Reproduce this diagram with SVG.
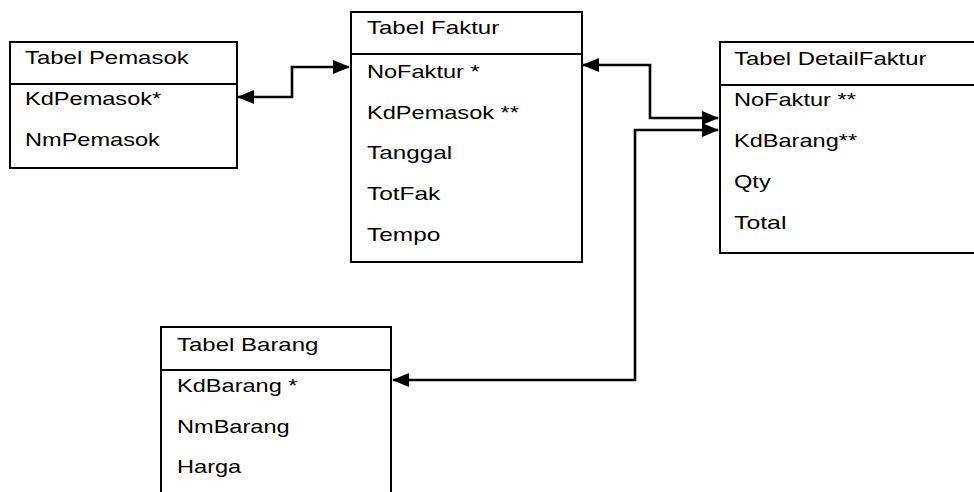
<svg xmlns="http://www.w3.org/2000/svg" width="974" height="492" viewBox="0 0 974 492">
<defs>
<marker id="arr" markerUnits="userSpaceOnUse" markerWidth="17" markerHeight="14" viewBox="0 0 17 14" refX="16" refY="7" orient="auto-start-reverse">
<path d="M0,0 L17,7 L0,14 z" fill="#000"/>
</marker>
<style>
.box{fill:#fff;stroke:#000;stroke-width:2}
.div{stroke:#000;stroke-width:2}
text{font-family:"Liberation Sans",Arial,sans-serif;font-size:19px;fill:#000}
.con{fill:none;stroke:#000;stroke-width:2.6;marker-start:url(#arr);marker-end:url(#arr)}
</style>
</defs>
<rect width="974" height="492" fill="#fff"/>
<g id="pemasok">
<rect class="box" x="10" y="42" width="227" height="126"/>
<line class="div" x1="10" y1="84" x2="237" y2="84"/>
<text x="25" y="64" textLength="163.7" lengthAdjust="spacingAndGlyphs">Tabel Pemasok</text>
<text x="25" y="105" textLength="136.2" lengthAdjust="spacingAndGlyphs">KdPemasok*</text>
<text x="25" y="146" textLength="134.8" lengthAdjust="spacingAndGlyphs">NmPemasok</text>
</g>
<g id="faktur">
<rect class="box" x="351" y="12" width="231" height="250"/>
<line class="div" x1="351" y1="54" x2="582" y2="54"/>
<text x="367" y="34" textLength="132.2" lengthAdjust="spacingAndGlyphs">Tabel Faktur</text>
<text x="367" y="78" textLength="112.6" lengthAdjust="spacingAndGlyphs">NoFaktur *</text>
<text x="367" y="119" textLength="151.9" lengthAdjust="spacingAndGlyphs">KdPemasok **</text>
<text x="367" y="159" textLength="85.1" lengthAdjust="spacingAndGlyphs">Tanggal</text>
<text x="367" y="200" textLength="73.3" lengthAdjust="spacingAndGlyphs">TotFak</text>
<text x="367" y="241" textLength="73.3" lengthAdjust="spacingAndGlyphs">Tempo</text>
</g>
<g id="detailfaktur">
<rect class="box" x="720" y="42" width="270" height="211"/>
<line class="div" x1="720" y1="85" x2="990" y2="85"/>
<text x="734" y="65" textLength="192.5" lengthAdjust="spacingAndGlyphs">Tabel DetailFaktur</text>
<text x="734" y="106" textLength="121.8" lengthAdjust="spacingAndGlyphs">NoFaktur **</text>
<text x="734" y="147" textLength="123.1" lengthAdjust="spacingAndGlyphs">KdBarang**</text>
<text x="734" y="188" textLength="36.7" lengthAdjust="spacingAndGlyphs">Qty</text>
<text x="734" y="229" textLength="52.4" lengthAdjust="spacingAndGlyphs">Total</text>
</g>
<g id="barang">
<rect class="box" x="161" y="327" width="230" height="180"/>
<line class="div" x1="161" y1="370" x2="391" y2="370"/>
<text x="177" y="351" textLength="141.4" lengthAdjust="spacingAndGlyphs">Tabel Barang</text>
<text x="177" y="392" textLength="120.5" lengthAdjust="spacingAndGlyphs">KdBarang *</text>
<text x="177" y="433" textLength="112.6" lengthAdjust="spacingAndGlyphs">NmBarang</text>
<text x="177" y="473" textLength="64.2" lengthAdjust="spacingAndGlyphs">Harga</text>
</g>
<g id="connectors">
<path class="con" d="M238,97 H292 V67 H349"/>
<path class="con" d="M583,65 H650 V118 H718"/>
<path class="con" d="M393,380 H635 V130 H718"/>
</g>
</svg>
